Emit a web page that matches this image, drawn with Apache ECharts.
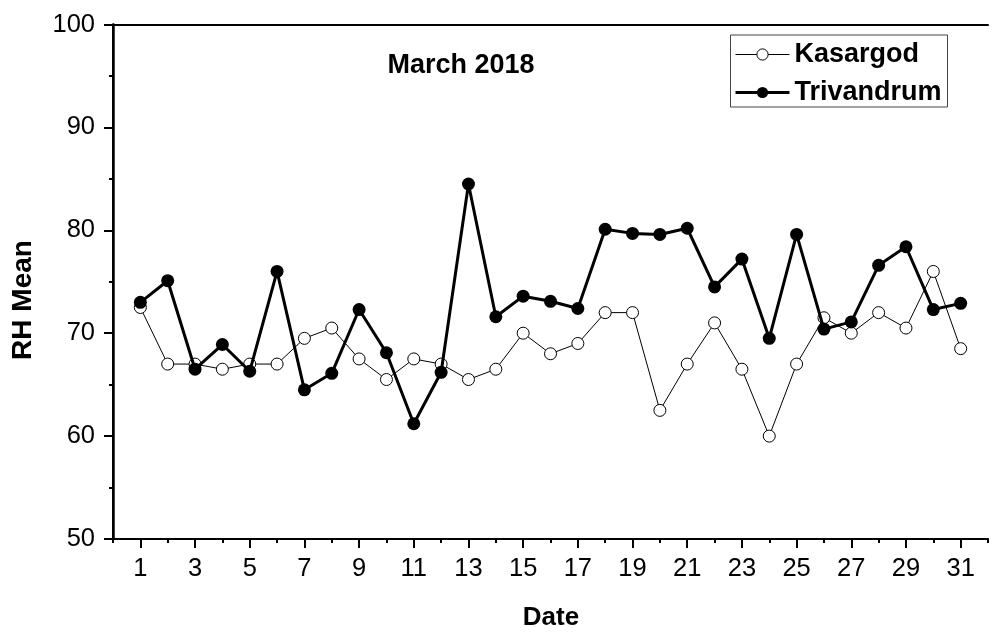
<!DOCTYPE html>
<html>
<head>
<meta charset="utf-8">
<script src="https://cdn.jsdelivr.net/npm/echarts@6/dist/echarts.min.js"></script>
<style>
html,body{margin:0;padding:0;background:#fff;}
#chart{width:997px;height:634px;}
</style>
</head>
<body>
<div id="chart"></div>
<script>
var days = [1,2,3,4,5,6,7,8,9,10,11,12,13,14,15,16,17,18,19,20,21,22,23,24,25,26,27,28,29,30,31];
var kasargod = [72.5,67,67,66.5,67,67,69.5,70.5,67.5,65.5,67.5,67,65.5,66.5,70,68,69,72,72,62.5,67,71,66.5,60,67,71.5,70,72,70.5,76,68.5];
var trivandrum = [73,75.1,66.5,68.9,66.3,76,64.5,66.1,72.3,68.1,61.2,66.2,84.5,71.6,73.6,73.1,72.4,80.1,79.7,79.6,80.2,74.5,77.2,69.5,79.6,70.4,71.1,76.6,78.4,72.3,72.9];
var xTickLabels = ['0','1','2','3','4','5','6','7','8','9','10','11','12','13','14','15','16','17','18','19','20','21','22','23','24','25','26','27','28','29','30','31','32'];
var seriesNames = ['Kasargod','Trivandrum'];
var titleText = 'March 2018';
var xName = 'Date';
var yName = 'RH Mean';

var FONT = '"Liberation Sans", Arial, Helvetica, sans-serif';
var chart = echarts.init(document.getElementById('chart'), null, {renderer:'canvas'});

function pairs(arr){ return arr.map(function(v,i){ return [days[i], v]; }); }
function isOdd(i){ return i % 2 === 1; }

var option = {
  backgroundColor:'#fff',
  animation:false,
  grid:{left:113, right:9, top:24.5, bottom:95, containLabel:false},
  xAxis:[
    {type:'value', min:0, max:32, interval:1, position:'bottom',
     axisLine:{show:true, lineStyle:{color:'#000', width:2}},
     axisTick:{show:true, length:4, lineStyle:{color:'#000', width:2}},
     axisLabel:{show:false}, splitLine:{show:false}},
    {type:'category', data:xTickLabels, boundaryGap:false, position:'bottom', gridIndex:0,
     axisLine:{show:false},
     axisTick:{show:true, length:9, interval:function(i){return isOdd(i);}, lineStyle:{color:'#000', width:2}},
     axisLabel:{show:true, interval:function(i){return isOdd(i);}, margin:17, color:'#000', fontSize:25.5, fontFamily:FONT},
     splitLine:{show:false}},
    {type:'value', min:0, max:32, position:'top',
     axisLine:{show:true, lineStyle:{color:'#000', width:2}},
     axisTick:{show:false}, axisLabel:{show:false}, splitLine:{show:false}}
  ],
  yAxis:[
    {type:'value', min:50, max:100, interval:10, position:'left',
     axisLine:{show:true, lineStyle:{color:'#000', width:2.5}},
     axisTick:{show:true, length:9, lineStyle:{color:'#000', width:2}},
     minorTick:{show:true, splitNumber:2, length:4, lineStyle:{color:'#000', width:2}},
     axisLabel:{margin:18, color:'#000', fontSize:25.5, fontFamily:FONT},
     splitLine:{show:false}},
    {type:'value', min:50, max:100, interval:10, position:'right',
     axisLine:{show:true, lineStyle:{color:'#000', width:2}},
     axisTick:{show:false}, axisLabel:{show:false}, splitLine:{show:false}}
  ],
  legend:{
    orient:'vertical', left:734, top:41, itemWidth:54, itemHeight:14, itemGap:11,
    padding:0, borderWidth:0,
    data:[
      {name:seriesNames[0], lineStyle:{width:1, color:'#000'}, itemStyle:{color:'#fff', borderColor:'#000', borderWidth:1}},
      {name:seriesNames[1], lineStyle:{width:3, color:'#000'}, itemStyle:{color:'#000'}}
    ],
    textStyle:{color:'#000', fontSize:27, fontWeight:'bold', fontFamily:FONT, lineHeight:26}
  },
  graphic:[
    {type:'rect', shape:{x:730.5, y:35, width:217, height:72}, style:{fill:null, stroke:'#444', lineWidth:1}, z:100, silent:true},
    {type:'text', style:{text:titleText, x:461, y:66, textAlign:'center', textVerticalAlign:'middle', font:'bold 27px ' + FONT, fill:'#000'}},
    {type:'text', style:{text:xName, x:551, y:618, textAlign:'center', textVerticalAlign:'middle', font:'bold 26px ' + FONT, fill:'#000'}},
    {type:'text', x:23, y:300, rotation:Math.PI/2, style:{text:yName, x:0, y:0, textAlign:'center', textVerticalAlign:'middle', font:'bold 28px ' + FONT, fill:'#000'}}
  ],
  series:[
    {name:seriesNames[0], type:'line', xAxisIndex:0, yAxisIndex:0, data:pairs(kasargod),
     symbol:'circle', symbolSize:12, showAllSymbol:true,
     lineStyle:{color:'#000', width:1},
     itemStyle:{color:'#fff', borderColor:'#000', borderWidth:1}, z:2},
    {name:seriesNames[1], type:'line', xAxisIndex:0, yAxisIndex:0, data:pairs(trivandrum),
     symbol:'circle', symbolSize:13, showAllSymbol:true,
     lineStyle:{color:'#000', width:3},
     itemStyle:{color:'#000', borderColor:'#000', borderWidth:0}, z:3}
  ]
};
chart.setOption(option);
</script>
</body>
</html>
